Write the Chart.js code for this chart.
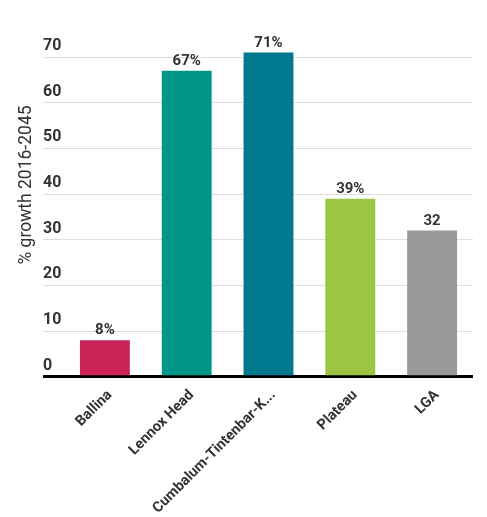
<!DOCTYPE html>
<html>
<head>
<meta charset="utf-8">
<script src="https://cdn.jsdelivr.net/npm/chart.js@4/dist/chart.umd.min.js"></script>
<style>
  html, body { margin: 0; padding: 0; background: #fff; }
  #wrap { width: 487px; height: 517px; position: relative; }
</style>
</head>
<body>
<div id="wrap"><canvas id="growthChart"></canvas></div>
<script>
const areas = ['Ballina', 'Lennox Head', 'Cumbalum-Tintenbar-K...', 'Plateau', 'LGA'];
const growth = [8, 67, 71, 39, 32];
const growthLabels = ['8%', '67%', '71%', '39%', '32'];
const barColors = ['#CB2358', '#009688', '#00798F', '#9CC543', '#999999'];
const yTicks = [0, 10, 20, 30, 40, 50, 60, 70];
const yTitle = '% growth 2016-2045';

const textColor = '#333333';

// value labels above each bar
const valueLabels = {
  id: 'valueLabels',
  afterDatasetsDraw(chart) {
    const { ctx } = chart;
    const meta = chart.getDatasetMeta(0);
    ctx.save();
    ctx.font = 'bold 15px Roboto';
    ctx.fillStyle = textColor;
    ctx.textAlign = 'center';
    ctx.textBaseline = 'bottom';
    meta.data.forEach((bar, i) => {
      ctx.fillText(growthLabels[i], bar.x, bar.y - 2);
    });
    ctx.restore();
  }
};

// y axis title, centred on the whole chart rather than the plot
const axisTitle = {
  id: 'axisTitle',
  afterDraw(chart) {
    const { ctx } = chart;
    ctx.save();
    ctx.translate(27, 185);
    ctx.rotate(-Math.PI / 2);
    ctx.font = '17.5px Roboto';
    ctx.fillStyle = textColor;
    ctx.textAlign = 'center';
    ctx.textBaseline = 'middle';
    ctx.fillText(yTitle, 0, 0);
    ctx.restore();
  }
};

const ctx = document.getElementById('growthChart').getContext('2d');
const growthChart = new Chart(ctx, {
  type: 'bar',
  data: {
    labels: areas,
    datasets: [{
      data: growth,
      backgroundColor: barColors,
      borderWidth: 0,
      barPercentage: 0.61,
      categoryPercentage: 1
    }]
  },
  options: {
    responsive: true,
    maintainAspectRatio: false,
    animation: false,
    layout: { padding: { left: 43, right: 14, top: 48, bottom: -2 } },
    plugins: {
      legend: { display: false },
      tooltip: { enabled: false }
    },
    scales: {
      x: {
        grid: { display: false },
        border: { display: false },
        ticks: {
          color: textColor,
          font: { family: 'Roboto', size: 14.5, weight: 'bold' },
          minRotation: 45,
          maxRotation: 45,
          autoSkip: false,
          labelOffset: 5,
          padding: 2
        }
      },
      y: {
        min: 0,
        max: 72,
        afterBuildTicks: scale => {
          scale.ticks = yTicks.map(v => ({ value: v }));
        },
        afterFit: scale => {
          scale.width = 21;
        },
        grid: {
          color: c => c.tick && c.tick.value === 0 ? '#000000' : '#dddddd',
          lineWidth: c => c.tick && c.tick.value === 0 ? 3 : 1,
          drawTicks: true,
          tickLength: 21
        },
        border: { display: false },
        ticks: {
          crossAlign: 'far',
          padding: 0,
          labelOffset: -11,
          color: textColor,
          font: { family: 'Roboto', size: 16, weight: 'bold' }
        }
      }
    }
  },
  plugins: [valueLabels, axisTitle]
});
</script>
</body>
</html>
